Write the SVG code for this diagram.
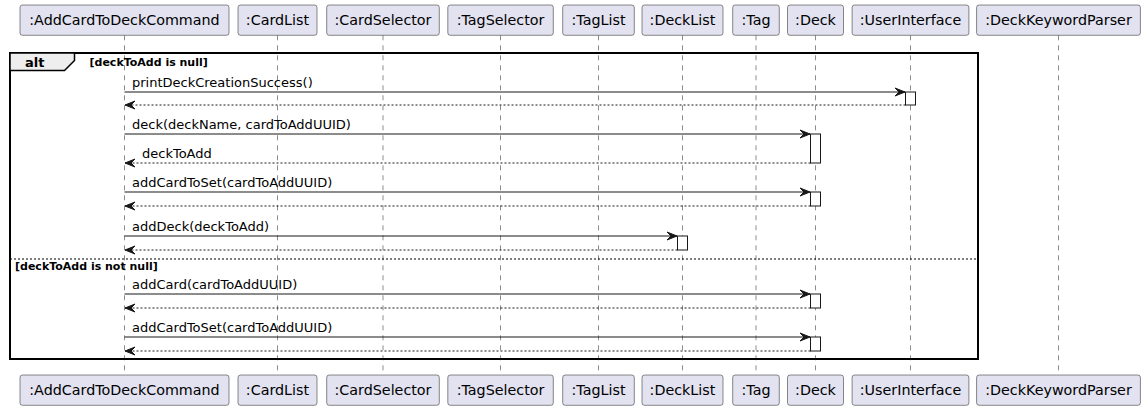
<svg xmlns="http://www.w3.org/2000/svg" width="1144" height="410" viewBox="0 0 1144 410">
<style>
.box{fill:#E2E2F0;stroke:#181818;stroke-width:0.5}
.pt{font-family:"DejaVu Sans",sans-serif;font-size:14.3px;fill:#000;text-anchor:middle}
.life{stroke:#181818;stroke-width:0.5;stroke-dasharray:5,5}
.act{fill:#FFFFFF;stroke:#181818;stroke-width:1}
.msg{stroke:#181818;stroke-width:1;fill:none}
.ret{stroke:#181818;stroke-width:1;fill:none;stroke-dasharray:2,2}
.mt{font-family:"DejaVu Sans",sans-serif;font-size:13px;fill:#000}
.frame{fill:none;stroke:#000;stroke-width:2}
.tab{fill:#EEEEEE;stroke:#000;stroke-width:1.5}
.ft{font-family:"DejaVu Sans",sans-serif;font-weight:bold;fill:#000}
</style>
<defs>
<marker id="ah" viewBox="-1 -1 12 10" refX="10" refY="4" markerWidth="12" markerHeight="10" markerUnits="userSpaceOnUse" orient="auto">
<path d="M0,0 L10,4 L0,8 L4,4 Z" fill="#181818" stroke="#181818" stroke-width="1" stroke-linejoin="miter"/>
</marker>
</defs>

<g id="lifelines">
<line class="life" x1="124.5" y1="35.3" x2="124.5" y2="375"/>
<line class="life" x1="277.5" y1="35.3" x2="277.5" y2="375"/>
<line class="life" x1="383" y1="35.3" x2="383" y2="375"/>
<line class="life" x1="500.5" y1="35.3" x2="500.5" y2="375"/>
<line class="life" x1="598.5" y1="35.3" x2="598.5" y2="375"/>
<line class="life" x1="682.5" y1="35.3" x2="682.5" y2="375"/>
<line class="life" x1="756" y1="35.3" x2="756" y2="375"/>
<line class="life" x1="815.5" y1="35.3" x2="815.5" y2="375"/>
<line class="life" x1="910.5" y1="35.3" x2="910.5" y2="375"/>
<line class="life" x1="1058.5" y1="35.3" x2="1058.5" y2="375"/>
</g>

<g id="p-AddCardToDeckCommand">
<rect class="box" x="20" y="5" width="209" height="30.3" rx="2.5"/>
<text class="pt" x="124.5" y="25.3">:AddCardToDeckCommand</text>
<rect class="box" x="20" y="375" width="209" height="30.3" rx="2.5"/>
<text class="pt" x="124.5" y="395.3">:AddCardToDeckCommand</text>
</g>
<g id="p-CardList">
<rect class="box" x="238" y="5" width="79" height="30.3" rx="2.5"/>
<text class="pt" x="277.5" y="25.3">:CardList</text>
<rect class="box" x="238" y="375" width="79" height="30.3" rx="2.5"/>
<text class="pt" x="277.5" y="395.3">:CardList</text>
</g>
<g id="p-CardSelector">
<rect class="box" x="326.7" y="5" width="112.6" height="30.3" rx="2.5"/>
<text class="pt" x="383" y="25.3">:CardSelector</text>
<rect class="box" x="326.7" y="375" width="112.6" height="30.3" rx="2.5"/>
<text class="pt" x="383" y="395.3">:CardSelector</text>
</g>
<g id="p-TagSelector">
<rect class="box" x="447.8" y="5" width="105.5" height="30.3" rx="2.5"/>
<text class="pt" x="500.5" y="25.3">:TagSelector</text>
<rect class="box" x="447.8" y="375" width="105.5" height="30.3" rx="2.5"/>
<text class="pt" x="500.5" y="395.3">:TagSelector</text>
</g>
<g id="p-TagList">
<rect class="box" x="562.7" y="5" width="71.6" height="30.3" rx="2.5"/>
<text class="pt" x="598.5" y="25.3">:TagList</text>
<rect class="box" x="562.7" y="375" width="71.6" height="30.3" rx="2.5"/>
<text class="pt" x="598.5" y="395.3">:TagList</text>
</g>
<g id="p-DeckList">
<rect class="box" x="642" y="5" width="81" height="30.3" rx="2.5"/>
<text class="pt" x="682.5" y="25.3">:DeckList</text>
<rect class="box" x="642" y="375" width="81" height="30.3" rx="2.5"/>
<text class="pt" x="682.5" y="395.3">:DeckList</text>
</g>
<g id="p-Tag">
<rect class="box" x="732.7" y="5" width="46.6" height="30.3" rx="2.5"/>
<text class="pt" x="756" y="25.3">:Tag</text>
<rect class="box" x="732.7" y="375" width="46.6" height="30.3" rx="2.5"/>
<text class="pt" x="756" y="395.3">:Tag</text>
</g>
<g id="p-Deck">
<rect class="box" x="787.5" y="5" width="56" height="30.3" rx="2.5"/>
<text class="pt" x="815.5" y="25.3">:Deck</text>
<rect class="box" x="787.5" y="375" width="56" height="30.3" rx="2.5"/>
<text class="pt" x="815.5" y="395.3">:Deck</text>
</g>
<g id="p-UserInterface">
<rect class="box" x="852.1" y="5" width="116.8" height="30.3" rx="2.5"/>
<text class="pt" x="910.5" y="25.3">:UserInterface</text>
<rect class="box" x="852.1" y="375" width="116.8" height="30.3" rx="2.5"/>
<text class="pt" x="910.5" y="395.3">:UserInterface</text>
</g>
<g id="p-DeckKeywordParser">
<rect class="box" x="976.6" y="5" width="163.8" height="30.3" rx="2.5"/>
<text class="pt" x="1058.5" y="25.3">:DeckKeywordParser</text>
<rect class="box" x="976.6" y="375" width="163.8" height="30.3" rx="2.5"/>
<text class="pt" x="1058.5" y="395.3">:DeckKeywordParser</text>
</g>

<g id="activations">
<rect class="act" x="905.5" y="92" width="10" height="13"/>
<rect class="act" x="810.5" y="134" width="10" height="29"/>
<rect class="act" x="810.5" y="192" width="10" height="14"/>
<rect class="act" x="677.5" y="236" width="10" height="14"/>
<rect class="act" x="810.5" y="294" width="10" height="14"/>
<rect class="act" x="810.5" y="337" width="10" height="14"/>
</g>

<g id="alt-frame">
<rect class="frame" x="10" y="53" width="968" height="306"/>
<polygon class="tab" points="10,53 74.5,53 74.5,60.5 64.5,70.5 10,70.5"/>
<text class="ft" x="25" y="66.5" font-size="13">alt</text>
<text class="ft" x="89.5" y="65.5" font-size="11">[deckToAdd is null]</text>
<line x1="10" y1="259" x2="978" y2="259" stroke="#000" stroke-width="1" stroke-dasharray="2,2"/>
<text class="ft" x="15" y="269.5" font-size="11">[deckToAdd is not null]</text>
</g>

<g id="connectors">
<line class="msg" x1="124.5" y1="92" x2="905" y2="92" marker-end="url(#ah)"/>
<text class="mt" x="132" y="86.5">printDeckCreationSuccess()</text>
<line class="ret" x1="905.5" y1="105" x2="125" y2="105" marker-end="url(#ah)"/>

<line class="msg" x1="124.5" y1="134" x2="810" y2="134" marker-end="url(#ah)"/>
<text class="mt" x="132" y="128.5">deck(deckName, cardToAddUUID)</text>
<line class="ret" x1="810.5" y1="163" x2="125" y2="163" marker-end="url(#ah)"/>
<text class="mt" x="142" y="157.5">deckToAdd</text>

<line class="msg" x1="124.5" y1="192" x2="810" y2="192" marker-end="url(#ah)"/>
<text class="mt" x="132" y="186.5">addCardToSet(cardToAddUUID)</text>
<line class="ret" x1="810.5" y1="206" x2="125" y2="206" marker-end="url(#ah)"/>

<line class="msg" x1="124.5" y1="236" x2="677" y2="236" marker-end="url(#ah)"/>
<text class="mt" x="132" y="230.5">addDeck(deckToAdd)</text>
<line class="ret" x1="677.5" y1="250" x2="125" y2="250" marker-end="url(#ah)"/>

<line class="msg" x1="124.5" y1="294" x2="810" y2="294" marker-end="url(#ah)"/>
<text class="mt" x="132" y="288.5">addCard(cardToAddUUID)</text>
<line class="ret" x1="810.5" y1="308" x2="125" y2="308" marker-end="url(#ah)"/>

<line class="msg" x1="124.5" y1="337" x2="810" y2="337" marker-end="url(#ah)"/>
<text class="mt" x="132" y="331.5">addCardToSet(cardToAddUUID)</text>
<line class="ret" x1="810.5" y1="351" x2="125" y2="351" marker-end="url(#ah)"/>
</g>
</svg>
